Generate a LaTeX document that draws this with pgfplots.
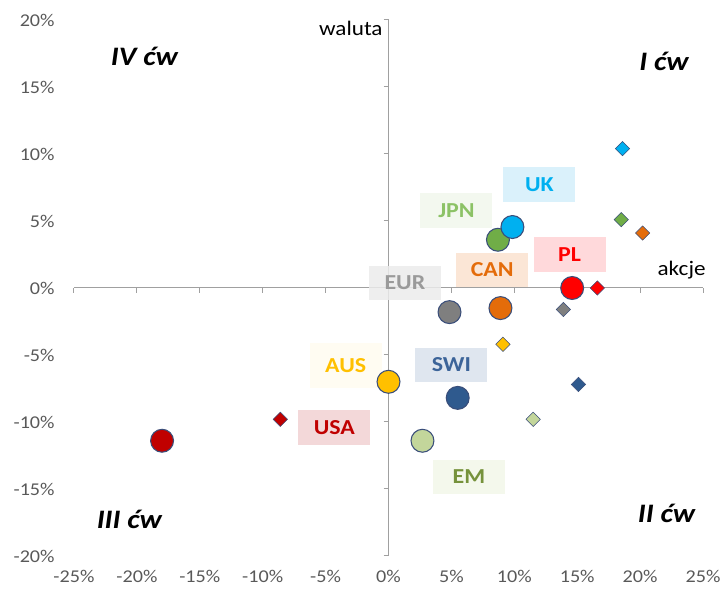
\documentclass[border=0pt]{standalone}
\usepackage{pgfplots}
\pgfplotsset{compat=1.18}
\usepackage{fontspec}
\setmainfont{Carlito}[FakeStretch=1.12]
\definecolor{axisgrey}{HTML}{A0A0A0}
\definecolor{ticktext}{HTML}{595959}
\definecolor{edgec}{HTML}{3A4E7A}
\definecolor{cUK}{HTML}{00B0F0}
\definecolor{cJPN}{HTML}{70AD47}
\definecolor{cPL}{HTML}{FF0000}
\definecolor{cCAN}{HTML}{E46C0A}
\definecolor{cEUR}{HTML}{7F7F7F}
\definecolor{cSWI}{HTML}{2F5A8E}
\definecolor{cAUS}{HTML}{FFC000}
\definecolor{cEM}{HTML}{C3D69B}
\definecolor{cUSA}{HTML}{C00000}
\definecolor{tJPN}{HTML}{8CC266}
\definecolor{tEUR}{HTML}{9A9A9A}
\definecolor{tSWI}{HTML}{3C6499}
\definecolor{tEM}{HTML}{76923C}
\definecolor{bUK}{HTML}{DAF1FB}
\definecolor{bJPN}{HTML}{F3F8EF}
\definecolor{bPL}{HTML}{FFD9DB}
\definecolor{bCAN}{HTML}{FBE6D6}
\definecolor{bEUR}{HTML}{EBEBEB}
\definecolor{bAUS}{HTML}{FFFCF2}
\definecolor{bSWI}{HTML}{DFE6EF}
\definecolor{bUSA}{HTML}{F3D8D9}
\definecolor{bEM}{HTML}{F4F8EC}
\begin{document}
\begin{tikzpicture}[
  lab/.style={font=\fontsize{16}{18}\selectfont\bfseries, minimum width=54pt, minimum height=26pt, inner sep=0pt},
  quad/.style={font=\fontsize{20}{22}\selectfont\bfseries\itshape, text=black}]
\pgfplotsset{
  common/.style={at={(0pt,0pt)}, anchor=south west, scale only axis,
    width=471.75pt, height=402pt, xmin=-25, xmax=25, ymin=-20, ymax=20,
    xtick={-25,-20,...,25}, ytick={-20,-15,...,20}},
  dia/.style={only marks, mark=square*, mark size=3.8pt,
    mark options={rotate=45, fill=#1, draw=edgec, line width=0.4pt}},
  circ/.style={only marks, mark=*, mark size=8.6pt,
    mark options={fill=#1, draw=edgec, line width=0.8pt}},
}
% tick labels at the frame edges
\begin{axis}[common, axis line style={draw=none}, major tick length=0pt,
  xticklabels={-25\%,-20\%,-15\%,-10\%,-5\%,0\%,5\%,10\%,15\%,20\%,25\%},
  yticklabels={-20\%,-15\%,-10\%,-5\%,0\%,5\%,10\%,15\%,20\%},
  tick label style={font=\fontsize{13.5}{15}\selectfont, text=ticktext},
  yticklabel style={xshift=-11pt}, xticklabel style={yshift=-7pt},
  /pgf/number format/assume math mode=true]
\end{axis}
% main axis with crossing lines
\begin{axis}[common, axis lines*=middle, clip=false,
  xticklabels={}, yticklabels={}, tick align=outside, major tick length=3.75pt,
  axis line style={color=axisgrey, line width=0.75pt},
  tick style={color=axisgrey, line width=0.75pt}]
% labels
\node[lab, fill=bUK, text=cUK] at (axis cs:12.0,7.7) {UK};
\node[lab, fill=bJPN, text=tJPN] at (axis cs:5.4,5.8) {JPN};
\node[lab, fill=bPL, text=cPL] at (axis cs:14.4,2.5) {PL};
\node[lab, fill=bCAN, text=cCAN] at (axis cs:8.25,1.35) {CAN};
\node[lab, fill=bEUR, text=tEUR, fill opacity=0.85, text opacity=1] at (axis cs:1.3,0.37) {EUR};
\node[lab, fill=bAUS, text=cAUS, minimum height=34pt] at (axis cs:-3.4,-5.8) {AUS};
\node[lab, fill=bSWI, text=tSWI] at (axis cs:5.0,-5.75) {SWI};
\node[lab, fill=bUSA, text=cUSA] at (axis cs:-4.3,-10.4) {USA};
\node[lab, fill=bEM, text=tEM] at (axis cs:6.4,-14.1) {EM};
% quadrant and axis names
\node[quad] at (axis cs:-19.4,17.3) {IV ćw};
\node[quad] at (axis cs:21.9,16.9) {I ćw};
\node[quad] at (axis cs:-20.6,-17.3) {III ćw};
\node[quad] at (axis cs:22.1,-16.8) {II ćw};
\node[anchor=east, font=\fontsize{15.5}{17}\selectfont, inner sep=0pt] at (axis cs:-0.45,19.4) {waluta};
\node[font=\fontsize{15.5}{17}\selectfont, inner sep=0pt] at (axis cs:23.3,1.3) {akcje};
% diamonds
\addplot[dia=cUK] coordinates {(18.6,10.4)};
\addplot[dia=cJPN] coordinates {(18.5,5.1)};
\addplot[dia=cCAN] coordinates {(20.2,4.1)};
\addplot[dia=cPL] coordinates {(16.6,0.0)};
\addplot[dia=cEUR] coordinates {(13.9,-1.6)};
\addplot[dia=cAUS] coordinates {(9.1,-4.2)};
\addplot[dia=cSWI] coordinates {(15.1,-7.2)};
\addplot[dia=cEM] coordinates {(11.5,-9.8)};
\addplot[dia=cUSA] coordinates {(-8.6,-9.8)};
% circles
\addplot[circ=cJPN] coordinates {(8.7,3.6)};
\addplot[circ=cUK] coordinates {(9.85,4.55)};
\addplot[circ=cPL] coordinates {(14.6,0.0)};
\addplot[circ=cCAN] coordinates {(8.9,-1.5)};
\addplot[circ=cEUR] coordinates {(4.85,-1.8)};
\addplot[circ=cSWI] coordinates {(5.5,-8.2)};
\addplot[circ=cAUS] coordinates {(0.0,-7.0)};
\addplot[circ=cEM] coordinates {(2.7,-11.4)};
\addplot[circ=cUSA] coordinates {(-18.0,-11.4)};
\end{axis}
\pgfresetboundingbox
\path (-55.5pt,-26.25pt) rectangle (488.25pt,417pt);
\end{tikzpicture}
\end{document}
